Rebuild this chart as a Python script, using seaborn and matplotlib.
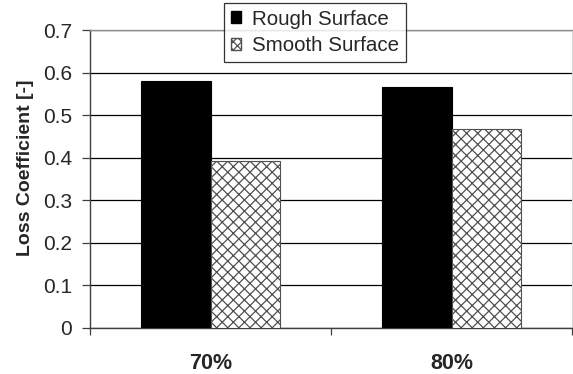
import matplotlib
matplotlib.use("Agg")
import matplotlib.pyplot as plt
from matplotlib.patches import Patch
import seaborn as sns
import pandas as pd

# Loss coefficient per opening ratio and surface finish
ratios = ["70%", "80%"]
surfaces = ["Rough Surface", "Smooth Surface"]
rough_values = [0.579, 0.567]
smooth_values = [0.392, 0.467]
y_ticks = [0, 0.1, 0.2, 0.3, 0.4, 0.5, 0.6, 0.7]
y_tick_labels = ["0", "0.1", "0.2", "0.3", "0.4", "0.5", "0.6", "0.7"]

df = pd.DataFrame({
    "Ratio": ratios * 2,
    "Surface": [surfaces[0]] * len(ratios) + [surfaces[1]] * len(ratios),
    "Loss": rough_values + smooth_values,
})

sns.set_style("white")
plt.rcParams["font.family"] = ["Liberation Sans", "DejaVu Sans"]
plt.rcParams["hatch.linewidth"] = 0.9

fig = plt.figure(figsize=(5.73, 3.74), dpi=100)
ax = fig.add_axes([90 / 573, 46.3 / 374, 482 / 573, 297.7 / 374])

sns.barplot(
    data=df, x="Ratio", y="Loss", hue="Surface", order=ratios,
    hue_order=surfaces, palette=["black", "white"], width=0.577,
    linewidth=0.8, edgecolor="black", ax=ax, legend=False, zorder=3,
)

# Crosshatch for the smooth-surface bars
for bar in ax.patches[len(ratios):]:
    bar.set_hatch("xxx")
    bar.set_edgecolor("#505050")

ax.set_xlim(-0.5, 1.5)
ax.set_ylim(0, 0.7)
ax.set_yticks(y_ticks)
ax.set_yticklabels(y_tick_labels, fontsize=15)
ax.yaxis.grid(True, color="black", linewidth=0.9)
ax.set_axisbelow(True)

# Category boundaries as tick marks, category names centred between them
ax.set_xticks([-0.5, 0.5, 1.5])
ax.set_xticklabels([])
ax.set_xticks([0, 1], minor=True)
ax.set_xticklabels(ratios, minor=True, fontsize=15.5, fontweight="bold")
ax.tick_params(axis="x", which="major", direction="out", length=5, width=0.9,
               color="#404040", bottom=True)
ax.tick_params(axis="x", which="minor", length=0, pad=18)
ax.tick_params(axis="y", direction="out", length=5.8, width=0.9,
               color="#404040", left=True, pad=7)

ax.set_xlabel("")
ax.set_ylabel("Loss Coefficient [-]", fontsize=14, fontweight="bold")
ax.yaxis.set_label_coords(-0.116, 0.538)

for side in ["left", "bottom"]:
    ax.spines[side].set_color("#404040")
    ax.spines[side].set_linewidth(1.0)
ax.spines["top"].set_color("#909090")
ax.spines["top"].set_linewidth(1.0)
ax.spines["right"].set_color("#d8d8d8")
ax.spines["right"].set_linewidth(0.8)

handles = [
    Patch(facecolor="black", edgecolor="black", label=surfaces[0]),
    Patch(facecolor="white", edgecolor="#505050", hatch="xxxx", label=surfaces[1]),
]
leg = ax.legend(
    handles=handles, loc="upper left", bbox_to_anchor=(224 / 573, 1 - 3 / 374),
    bbox_transform=fig.transFigure, borderaxespad=0, fontsize=14.8,
    frameon=True, fancybox=False, handlelength=0.5, handleheight=0.5,
    handletextpad=0.55, labelspacing=0.38, borderpad=0.32,
)
leg.get_frame().set_edgecolor("black")
leg.get_frame().set_linewidth(0.9)
leg.set_zorder(10)

fig.savefig("out.png", dpi=100)
